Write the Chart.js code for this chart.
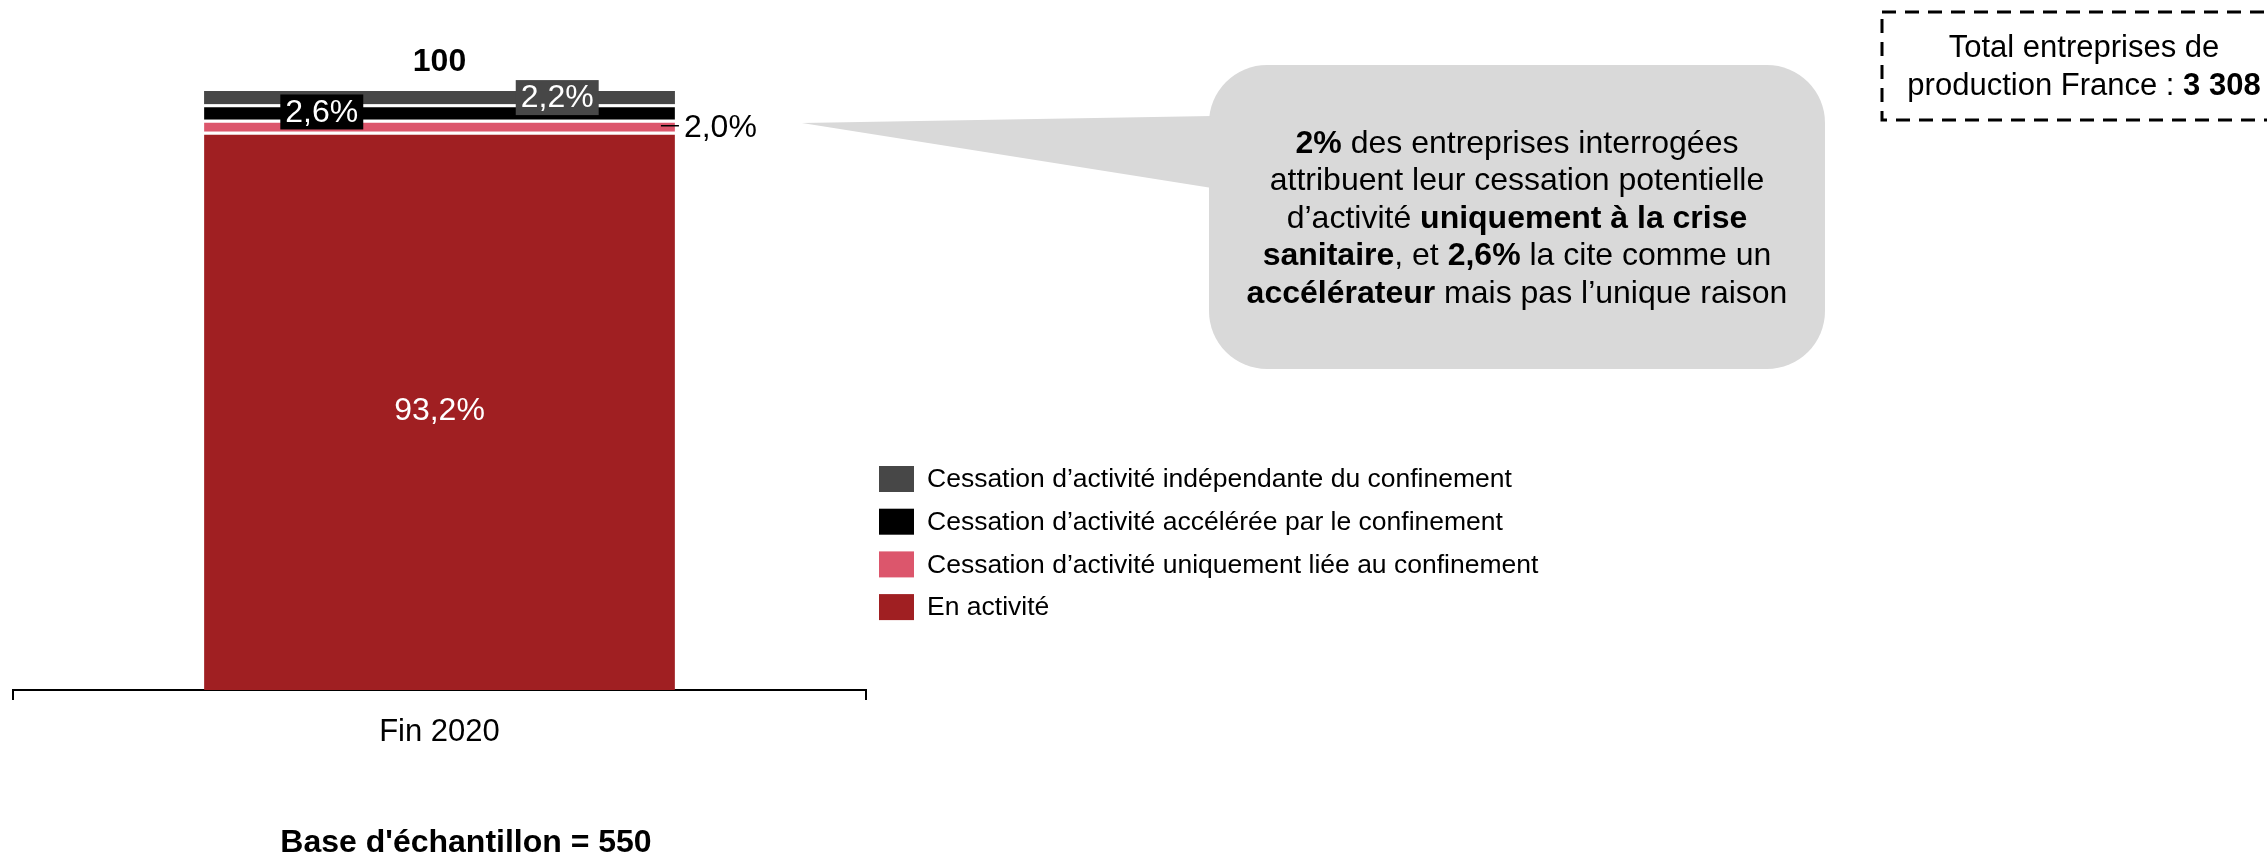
<!DOCTYPE html>
<html>
<head>
<meta charset="utf-8">
<script src="https://cdn.jsdelivr.net/npm/chart.js@4"></script>
<style>
  html, body { margin: 0; padding: 0; background: #fff; overflow: hidden; }
</style>
</head>
<body>
<canvas id="chart" width="2267" height="856"></canvas>
<script>
const categories = ['Fin 2020'];
const seriesNames = [
  'En activité',
  'Cessation d’activité uniquement liée au confinement',
  'Cessation d’activité accélérée par le confinement',
  'Cessation d’activité indépendante du confinement'
];
const enActivite = [93.2];
const uniquement = [2.0];
const acceleree = [2.6];
const independante = [2.2];
const seriesColors = ['#a01f22', '#dc566c', '#000000', '#474747'];
const totalLabels = ['100'];
const baseEchantillon = 550;
const totalEntreprises = '3 308';

const FONT = '"Liberation Sans", Arial, sans-serif';
const seriesValues = [enActivite, uniquement, acceleree, independante];
const fmt = v => v.toFixed(1).replace('.', ',') + '%';

function richLine(c, parts, cx, y, size) {
  const widths = parts.map(p => {
    c.font = (p[1] ? 'bold ' : '') + size + 'px ' + FONT;
    return c.measureText(p[0]).width;
  });
  let x = cx - widths.reduce((a, b) => a + b, 0) / 2;
  c.textAlign = 'left';
  parts.forEach((p, i) => {
    c.font = (p[1] ? 'bold ' : '') + size + 'px ' + FONT;
    c.fillText(p[0], x, y);
    x += widths[i];
  });
}

// valeurs sur les barres
const labelsPlugin = {
  id: 'labels',
  afterDatasetsDraw(chart) {
    const c = chart.ctx;
    const el = i => chart.getDatasetMeta(i).data[0];
    c.save();
    c.textBaseline = 'middle';
    c.textAlign = 'center';
    c.font = '32px ' + FONT;

    const red = el(0);
    c.fillStyle = '#fff';
    c.fillText(fmt(enActivite[0]), red.x, (red.y + red.base) / 2);

    const box = (bar, val, bg, dx) => {
      const t = fmt(val);
      const cx = bar.x + dx, cy = (bar.y + bar.base) / 2;
      const w = c.measureText(t).width + 10, h = 35;
      c.fillStyle = bg;
      c.fillRect(cx - w / 2, cy - h / 2, w, h);
      c.fillStyle = '#fff';
      c.fillText(t, cx, cy + 1);
    };
    const blk = el(2), grey = el(3);
    box(blk, acceleree[0], '#000000', -blk.width / 4);
    box(grey, independante[0], '#474747', grey.width / 4);

    // étiquette extérieure 2,0%
    const pink = el(1);
    const py = (pink.y + pink.base) / 2;
    const right = pink.x + pink.width / 2;
    c.strokeStyle = '#000';
    c.lineWidth = 1.5;
    c.beginPath();
    c.moveTo(right - 14, py);
    c.lineTo(right + 4, py);
    c.stroke();
    c.fillStyle = '#000';
    c.textAlign = 'left';
    c.fillText(fmt(uniquement[0]), right + 9, py + 2);

    // total
    c.textAlign = 'center';
    c.font = 'bold 32px ' + FONT;
    c.fillText(totalLabels[0], grey.x, grey.y - 29);
    c.restore();
  }
};

// bulle, encadré, légende, base
const extrasPlugin = {
  id: 'extras',
  afterDraw(chart) {
    const c = chart.ctx;
    c.save();

    // bulle
    c.fillStyle = '#d9d9d9';
    c.beginPath();
    c.roundRect(1209, 65, 616, 304, 58);
    c.fill();
    c.beginPath();
    c.moveTo(1212, 116);
    c.lineTo(802, 123);
    c.lineTo(1212, 188);
    c.closePath();
    c.fill();

    c.fillStyle = '#000';
    c.textBaseline = 'middle';
    const lines = [
      [['2%', true], [' des entreprises interrogées', false]],
      [['attribuent leur cessation potentielle', false]],
      [['d’activité ', false], ['uniquement à la crise', true]],
      [['sanitaire', true], [', et ', false], ['2,6%', true], [' la cite comme un', false]],
      [['accélérateur', true], [' mais pas l’unique raison', false]]
    ];
    lines.forEach((l, i) => richLine(c, l, 1517, 144 + i * 37.5, 32));

    // encadré total
    c.strokeStyle = '#000';
    c.lineWidth = 3;
    c.setLineDash([14, 9]);
    c.strokeRect(1882, 12, 420, 108);
    c.setLineDash([]);
    richLine(c, [['Total entreprises de', false]], 2084, 48, 31);
    richLine(c, [['production France : ', false], [totalEntreprises, true]], 2084, 86, 31);

    // légende
    c.font = '26.5px ' + FONT;
    c.textAlign = 'left';
    for (let i = 0; i < seriesNames.length; i++) {
      const k = seriesNames.length - 1 - i;
      const y = 479 + i * 42.7;
      c.fillStyle = seriesColors[k];
      c.fillRect(879, y - 13, 35, 26);
      c.fillStyle = '#000';
      c.fillText(seriesNames[k], 927, y + 1);
    }

    // base d'échantillon
    c.textAlign = 'center';
    c.font = 'bold 32px ' + FONT;
    c.fillText('Base d\'échantillon = ' + baseEchantillon, 466, 843);
    c.restore();
  }
};

const ctx = document.getElementById('chart').getContext('2d');
new Chart(ctx, {
  type: 'bar',
  data: {
    labels: categories,
    datasets: seriesValues.map((vals, i) => ({
      label: seriesNames[i],
      data: vals,
      backgroundColor: seriesColors[i],
      borderColor: '#ffffff',
      borderWidth: { top: i === 3 ? 0 : 3, left: 0, right: 0, bottom: 0 },
      borderSkipped: false,
      barPercentage: 0.552,
      categoryPercentage: 1
    }))
  },
  options: {
    responsive: false,
    animation: false,
    devicePixelRatio: 1,
    layout: { padding: { left: 13, right: 1401, top: 91, bottom: 0 } },
    plugins: { legend: { display: false }, tooltip: { enabled: false } },
    scales: {
      x: {
        stacked: true,
        offset: true,
        grid: { offset: true, drawOnChartArea: false, drawTicks: true, tickLength: 10, color: '#000', lineWidth: 2 },
        border: { display: true, color: '#000', width: 2 },
        ticks: { color: '#000', font: { family: FONT, size: 31 }, padding: 14 },
        afterFit: s => { s.height = 166; }
      },
      y: { stacked: true, display: false, min: 0, max: 100 }
    }
  },
  plugins: [labelsPlugin, extrasPlugin]
});
</script>
</body>
</html>
